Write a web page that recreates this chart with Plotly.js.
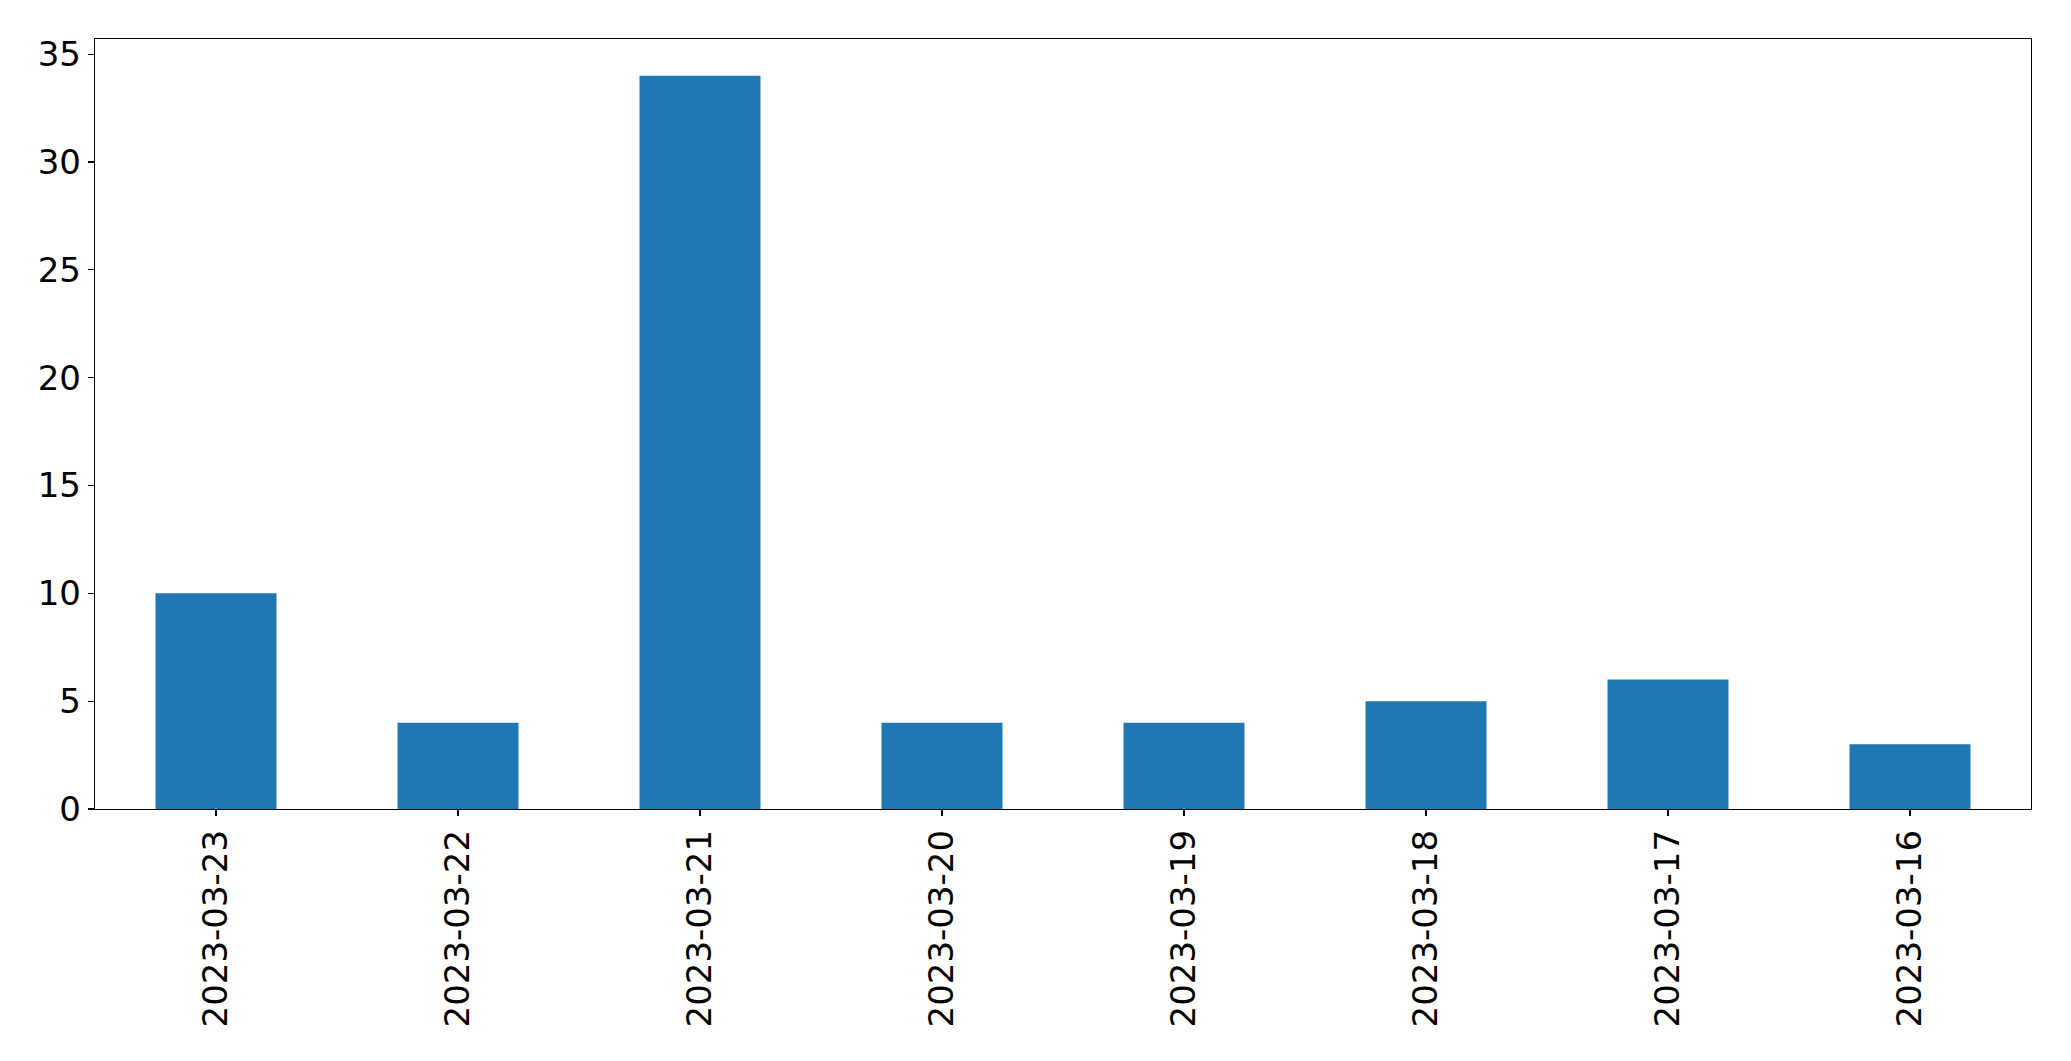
<!DOCTYPE html>
<html>
<head>
<meta charset="utf-8">
<script src="https://cdn.plot.ly/plotly-3.0.1.min.js"></script>
<style>html,body{margin:0;padding:0;background:#fff;}#chart{width:2071px;height:1061px;}</style>
</head>
<body>
<div id="chart"></div>
<script>
const dates = ["2023-03-23","2023-03-22","2023-03-21","2023-03-20","2023-03-19","2023-03-18","2023-03-17","2023-03-16"];
const counts = [10, 4, 34, 4, 4, 5, 6, 3];
const yTicks = [0, 5, 10, 15, 20, 25, 30, 35];

const trace = {
  type: "bar",
  x: dates,
  y: counts,
  width: 0.5,
  marker: {color: "#1f77b4", line: {width: 0}},
  hoverinfo: "x+y"
};

const layout = {
  width: 2071,
  height: 1061,
  margin: {l: 95, r: 40, t: 39, b: 252, pad: 0},
  paper_bgcolor: "#ffffff",
  plot_bgcolor: "#ffffff",
  showlegend: false,
  font: {family: "DejaVu Sans", size: 34, color: "#000000"},
  bargap: 0.5,
  xaxis: {
    type: "category",
    range: [-0.5, 7.5],
    tickangle: -90,
    ticks: "outside",
    ticklen: 6,
    tickwidth: 1.2,
    tickcolor: "#000",
    showline: true,
    linecolor: "#000",
    linewidth: 1.3,
    mirror: true,
    showgrid: false,
    zeroline: false,
    tickfont: {family: "DejaVu Sans", size: 34, color: "#000"}
  },
  yaxis: {
    range: [0, 35.7],
    tickvals: yTicks,
    ticktext: yTicks.map(String),
    ticks: "outside",
    ticklen: 6,
    tickwidth: 1.2,
    tickcolor: "#000",
    showline: true,
    linecolor: "#000",
    linewidth: 1.3,
    mirror: true,
    showgrid: false,
    zeroline: false,
    tickfont: {family: "DejaVu Sans", size: 34, color: "#000"}
  }
};

Plotly.newPlot("chart", [trace], layout, {displayModeBar: false, staticPlot: true});
</script>
</body>
</html>
